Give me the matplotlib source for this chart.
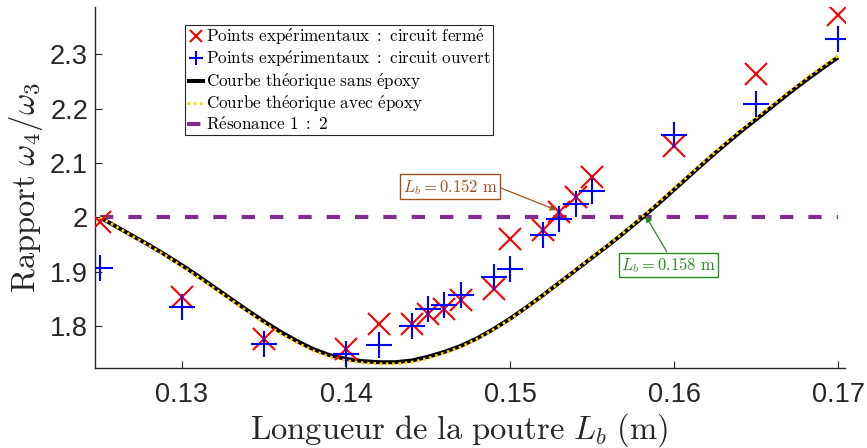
import matplotlib
matplotlib.use("Agg")
import matplotlib.pyplot as plt

plt.rcParams['mathtext.fontset'] = 'cm'
plt.rcParams['font.family'] = ['Liberation Sans', 'DejaVu Sans']

# Experimental beam lengths (m)
L_exp = [0.125, 0.130, 0.135, 0.140, 0.142, 0.144, 0.145, 0.146, 0.147,
         0.149, 0.150, 0.152, 0.153, 0.154, 0.155, 0.160, 0.165, 0.170]
# Frequency ratio, closed circuit
ratio_ferme = [1.991, 1.853, 1.777, 1.759, 1.805, 1.805, 1.822, 1.832, 1.849,
               1.868, 1.960, 1.976, 2.010, 2.037, 2.074, 2.132, 2.263, 2.371]
# Frequency ratio, open circuit
ratio_ouvert = [1.907, 1.835, 1.768, 1.749, 1.765, 1.801, 1.832, 1.840, 1.858,
                1.890, 1.906, 1.967, 1.998, 2.024, 2.048, 2.151, 2.208, 2.327]

# Theoretical curves (beam length in m)
L_th = [0.125, 0.126, 0.127, 0.128, 0.129, 0.130, 0.131, 0.132, 0.133,
        0.134, 0.135, 0.136, 0.137, 0.138, 0.139, 0.140, 0.141, 0.142,
        0.143, 0.144, 0.145, 0.146, 0.147, 0.148, 0.149, 0.150, 0.151,
        0.152, 0.153, 0.154, 0.155, 0.156, 0.157, 0.158, 0.159, 0.160,
        0.161, 0.162, 0.163, 0.164, 0.165, 0.166, 0.167, 0.168, 0.169,
        0.170]
ratio_sans = [2.000, 1.983, 1.966, 1.949, 1.931, 1.912, 1.892, 1.871, 1.850,
              1.829, 1.809, 1.790, 1.773, 1.758, 1.747, 1.740, 1.736, 1.734,
              1.734, 1.737, 1.744, 1.753, 1.764, 1.778, 1.795, 1.814, 1.835,
              1.857, 1.880, 1.903, 1.926, 1.949, 1.973, 1.998, 2.024, 2.051,
              2.078, 2.105, 2.131, 2.156, 2.180, 2.204, 2.228, 2.251, 2.273,
              2.294]
ratio_avec = [2.000, 1.983, 1.965, 1.948, 1.930, 1.910, 1.890, 1.869, 1.848,
              1.827, 1.806, 1.787, 1.770, 1.755, 1.744, 1.737, 1.733, 1.731,
              1.731, 1.734, 1.741, 1.751, 1.762, 1.777, 1.794, 1.813, 1.835,
              1.857, 1.880, 1.904, 1.927, 1.950, 1.974, 2.000, 2.026, 2.053,
              2.080, 2.107, 2.133, 2.159, 2.183, 2.207, 2.231, 2.254, 2.276,
              2.297]

L_res = [0.125, 0.170]
ratio_res = [2.0, 2.0]

x_ticks = [0.13, 0.14, 0.15, 0.16, 0.17]
x_ticklabels = ['0.13', '0.14', '0.15', '0.16', '0.17']
y_ticks = [1.8, 1.9, 2.0, 2.1, 2.2, 2.3]
y_ticklabels = ['1.8', '1.9', '2', '2.1', '2.2', '2.3']

fig = plt.figure(figsize=(8.67, 4.48), dpi=100)
ax = fig.add_axes([0.1096, 0.1786, 0.8651, 0.8058])

purple = '#7E2F8E'
brown = '#A3501F'
green = '#2A8A22'
axcol = '#262626'

ax.plot(L_exp, ratio_ferme, linestyle='none', marker='x', color='#FF0000',
        markersize=16, markeredgewidth=1.5, zorder=6,
        label=r'$\mathrm{Points\ exp\acute{e}rimentaux\ :\ circuit\ ferm\acute{e}}$')
ax.plot(L_exp, ratio_ouvert, linestyle='none', marker='+', color='#0000FF',
        markersize=19, markeredgewidth=1.5, zorder=6,
        label=r'$\mathrm{Points\ exp\acute{e}rimentaux\ :\ circuit\ ouvert}$')
ax.plot(L_th, ratio_sans, color='black', linewidth=2.9, zorder=4,
        solid_capstyle='butt',
        label=r'$\mathrm{Courbe\ th\acute{e}orique\ sans\ \acute{e}poxy}$')
ax.plot(L_th, ratio_avec, color='#FFD500', linewidth=2.1, zorder=5,
        dashes=(0.9, 1.25), dash_capstyle='butt',
        label=r'$\mathrm{Courbe\ th\acute{e}orique\ avec\ \acute{e}poxy}$')
ax.plot(L_res, ratio_res, color=purple, linewidth=3.0, zorder=3,
        dashes=(3.2, 3.6), dash_capstyle='butt',
        label=r'$\mathrm{R\acute{e}sonance\ 1\ :\ 2}$')

ax.set_xlim(0.124695, 0.170427)
ax.set_ylim(1.7234, 2.3866)
ax.set_xticks(x_ticks)
ax.set_xticklabels(x_ticklabels)
ax.set_yticks(y_ticks)
ax.set_yticklabels(y_ticklabels)

for side in ('top', 'right'):
    ax.spines[side].set_visible(False)
for side in ('left', 'bottom'):
    ax.spines[side].set_color(axcol)
    ax.spines[side].set_linewidth(1.0)
ax.tick_params(direction='in', length=5, width=0.8, colors=axcol,
               labelsize=19.5, labelcolor=axcol)
ax.tick_params(axis='x', pad=10)
ax.tick_params(axis='y', pad=5)

ax.set_xlabel(r'$\mathrm{Longueur\ de\ la\ poutre}\ L_b\ \mathrm{(m)}$',
              fontsize=23.5, color=axcol)
ax.xaxis.set_label_coords(0.486, -0.1967)
ax.xaxis.label.set_verticalalignment('baseline')
ax.set_ylabel(r'$\mathrm{Rapport}\ \omega_4/\omega_3$',
              fontsize=23.5, color=axcol, labelpad=4)

leg = ax.legend(loc='upper left', bbox_to_anchor=(0.12, 0.95),
                borderaxespad=0, fontsize=12.3, handlelength=1.05,
                handletextpad=0.1, borderpad=0.1, labelspacing=0.1,
                fancybox=False, framealpha=1, edgecolor=axcol,
                markerscale=0.55)
leg.get_frame().set_linewidth(0.8)

ax.annotate(r'$L_b = 0.152\ \mathrm{m}$', xy=(0.15284, 2.0134),
            xytext=(0.14634, 2.0566), textcoords='data',
            ha='center', va='center', fontsize=12, color=brown,
            bbox=dict(boxstyle='square,pad=0.15', fc='white', ec=brown, lw=1),
            arrowprops=dict(arrowstyle='-|>', color=brown, lw=0.9,
                            mutation_scale=9, relpos=(1.0, 0.5),
                            shrinkA=0, shrinkB=0),
            zorder=8)
ax.annotate(r'$L_b = 0.158\ \mathrm{m}$', xy=(0.15827, 2.003),
            xytext=(0.15967, 1.9127), textcoords='data',
            ha='center', va='center', fontsize=12, color=green,
            bbox=dict(boxstyle='square,pad=0.15', fc='white', ec=green, lw=1),
            arrowprops=dict(arrowstyle='-|>', color=green, lw=0.9,
                            mutation_scale=9, relpos=(0.5, 1.0),
                            shrinkA=0, shrinkB=0),
            zorder=8)

fig.savefig('out.png', dpi=100)
